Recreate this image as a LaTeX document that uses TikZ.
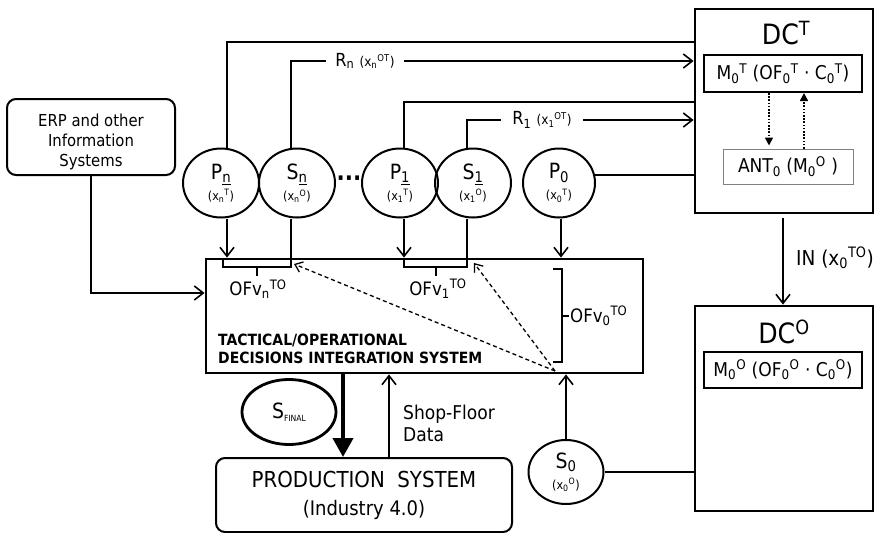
\documentclass[tikz,border=0pt]{standalone}
\usepackage{fontspec}
\setmainfont{DejaVu Sans Condensed}
\usetikzlibrary{arrows.meta,shapes.geometric}
\newcommand{\myfs}[1]{\fontsize{#1}{#1}\selectfont}
\newcommand{\csub}[1]{{\myfs{12.5}#1}}
\begin{document}
\begin{tikzpicture}[x=1pt,y=-1pt,
  conn/.style={line width=1.7pt},
  arr/.style={conn,-{Straight Barb[length=9pt,width=14pt,line width=1.6pt]}},
  darr/.style={line width=1.3pt,dashed,dash pattern=on 4pt off 3pt,-{Straight Barb[length=7pt,width=11pt,line width=1.3pt]}},
  dotarr/.style={line width=1.6pt,dash pattern=on 1.6pt off 1.6pt,-{Triangle[length=8pt,width=8pt]}},
  bigbox/.style={draw,line width=2.8pt,rectangle,inner sep=0pt},
  inbox/.style={draw,line width=2pt,rectangle,inner sep=0pt},
  rbox/.style={draw,line width=2pt,rectangle,rounded corners=9pt,inner sep=0pt,align=center},
  circ/.style={draw,ellipse,line width=2pt,inner sep=0pt,minimum width=76pt,minimum height=69pt,align=center,font=\myfs{21}},
  lbl/.style={fill=white,inner ysep=1pt,inner xsep=9pt},
  brk/.style={line width=2pt}
]
\useasboundingbox (0,0) rectangle (879,533);

% ---- main boxes
\node[bigbox,minimum width=178pt,minimum height=204pt] (dct) at (784,111) {};
\node[font=\myfs{28}] (dctt) at (786,33) {DC\textsuperscript{T}};
\node[inbox,minimum width=158pt,minimum height=37pt,font=\myfs{19}] (m0t) at (783,73.5)
  {M\textsubscript{0}\textsuperscript{T} (OF\textsubscript{0}\textsuperscript{T} · C\textsubscript{0}\textsuperscript{T})};
\node[draw=gray,line width=1pt,rectangle,inner sep=0pt,minimum width=130pt,minimum height=35pt,font=\myfs{19}] (ant) at (788,166.5)
  {ANT\textsubscript{0} (M\textsubscript{0}\textsuperscript{O} )};

\node[bigbox,minimum width=178pt,minimum height=205pt] (dco) at (784,408.5) {};
\node[font=\myfs{28}] (dcot) at (784,332) {DC\textsuperscript{O}};
\node[inbox,minimum width=158pt,minimum height=36pt,font=\myfs{19}] (m0o) at (783,370)
  {M\textsubscript{0}\textsuperscript{O} (OF\textsubscript{0}\textsuperscript{O} · C\textsubscript{0}\textsuperscript{O})};

\node[bigbox,minimum width=437pt,minimum height=114pt] (todis) at (424.5,316) {};
\node[anchor=west,align=left,inner sep=0pt,font=\myfs{15.5}\bfseries] (todist) at (218,349)
  {TACTICAL/OPERATIONAL\\[2pt] DECISIONS INTEGRATION SYSTEM};

\node[rbox,minimum width=168pt,minimum height=76pt] (erp) at (91,137) {};
\node[align=center,inner sep=0pt,font=\myfs{16.5}] (erpt) at (91,142)
  {ERP and other\\[3.5pt] Information\\[3.5pt] Systems};

\node[rbox,minimum width=296pt,minimum height=74pt,font=\myfs{22}] (prod) at (364,495)
  {PRODUCTION~~SYSTEM\\[6pt] {\myfs{20}(Industry 4.0)}};

% ---- circles
\node[circ] (pn) at (221,183) {P\textsubscript{\underline{n}}\\[0pt]\csub{(x\textsubscript{n}\textsuperscript{T})}};
\node[circ] (sn) at (297,183) {S\textsubscript{\underline{n}}\\[0pt]\csub{(x\textsubscript{n}\textsuperscript{O})}};
\node[font=\myfs{24}\bfseries] (dots) at (349,181) {···};
\node[circ] (p1) at (400,183) {P\textsubscript{\underline{1}}\\[0pt]\csub{(x\textsubscript{1}\textsuperscript{T})}};
\node[circ] (s1) at (473,183) {S\textsubscript{\underline{1}}\\[0pt]\csub{(x\textsubscript{1}\textsuperscript{O})}};
\node[circ,minimum width=72pt] (p0) at (559,183) {P\textsubscript{0}\\[0pt]\csub{(x\textsubscript{0}\textsuperscript{T})}};
\node[circ,minimum width=75pt,minimum height=64pt] (s0) at (566,472) {S\textsubscript{0}\\[0pt]\csub{(x\textsubscript{0}\textsuperscript{O})}};
\node[draw,ellipse,line width=2.8pt,minimum width=94pt,minimum height=65pt,inner sep=0pt,font=\myfs{21}] (sfin) at (289,412)
  {S\raisebox{-3pt}{\myfs{8.5}FINAL}};

% ---- top feedback lines
\draw[conn] ([xshift=6pt]pn.north) |- (dct.west |- 0,42);
\draw[arr] ([xshift=-6pt]sn.north) |- (dct.west |- 0,61);
\node[lbl,font=\myfs{18}] (rn) at (365,61) {R\textsubscript{n} {\myfs{13.5}(x\textsubscript{n}\textsuperscript{OT})}};
\draw[conn] ([xshift=4pt]p1.north) |- (dct.west |- 0,102);
\draw[arr] ([xshift=-6pt]s1.north) |- (dct.west |- 0,120);
\node[lbl,inner xsep=11pt,font=\myfs{18}] (r1) at (542,120) {R\textsubscript{1} {\myfs{13.5}(x\textsubscript{1}\textsuperscript{OT})}};
\draw[conn] (p0.13) -- (dct.west |- p0.13);

% ---- circles to TODIS
\draw[arr] ([xshift=6pt]pn.south) -- ([xshift=6pt]pn.south |- todis.north);
\draw[conn] ([xshift=-6pt]sn.south) -- ([xshift=-6pt]sn.south |- todis.north);
\draw[arr] ([xshift=4pt]p1.south) -- ([xshift=4pt]p1.south |- todis.north);
\draw[conn] ([xshift=-6pt]s1.south) -- ([xshift=-6pt]s1.south |- todis.north);
\draw[arr] ([xshift=2pt]p0.south) -- ([xshift=2pt]p0.south |- todis.north);

% ---- brackets
\draw[brk] (223,259) -- (223,267) -- (291,267) -- (291,259);
\draw[brk] (257,267) -- (257,276);
\node[font=\myfs{18.5}] (ofvn) at (258,289) {OFv\textsubscript{n}\textsuperscript{TO}};
\draw[brk] (404,259) -- (404,267) -- (467,267) -- (467,259);
\draw[brk] (436,267) -- (436,276);
\node[font=\myfs{18.5}] (ofv1) at (438,289) {OFv\textsubscript{1}\textsuperscript{TO}};
\draw[brk] (553,269) -- (562,269) -- (562,362) -- (553,362);
\draw[brk] (562,316) -- (569,316);
\node[anchor=west,inner sep=0pt,font=\myfs{18.5}] (ofv0) at (570,316) {OFv\textsubscript{0}\textsuperscript{TO}};

% ---- dashed arrows
\coordinate (dsrc) at (555,371);
\draw[darr] (dsrc) -- (294,264);
\draw[darr] (dsrc) -- (474,263);

% ---- ERP
\draw[arr] (erp.south) |- (todis.west |- 0,293);

% ---- DC arrows
\draw[dotarr,shorten >=3pt] (m0t.south -| 769,0) -- (ant.north -| 769,0);
\draw[dotarr] (ant.north -| 804,0) -- (m0t.south -| 804,0);
\draw[arr,shorten <=4pt] (dct.south -| 783,0) -- (dco.north -| 783,0);
\node[anchor=west,inner sep=0pt,font=\myfs{20.5}] (inl) at (796,258) {IN (x\textsubscript{0}\textsuperscript{TO})};

% ---- production links
\draw[line width=4pt,-{Triangle[length=19pt,width=20pt]}] (todis.south -| 343,0) -- (prod.north -| 343,0);
\draw[arr,line width=1.4pt] (prod.north -| 389,0) -- (todis.south -| 389,0);
\node[anchor=west,align=left,inner sep=0pt,font=\myfs{19}] (sfd) at (403,423) {Shop-Floor\\[3pt] Data};
\draw[arr,line width=1.4pt] (s0.north) -- (s0.north |- todis.south);
\draw[conn,line width=1.4pt] (s0.east) -- (dco.west |- s0.east);
\end{tikzpicture}
\end{document}
